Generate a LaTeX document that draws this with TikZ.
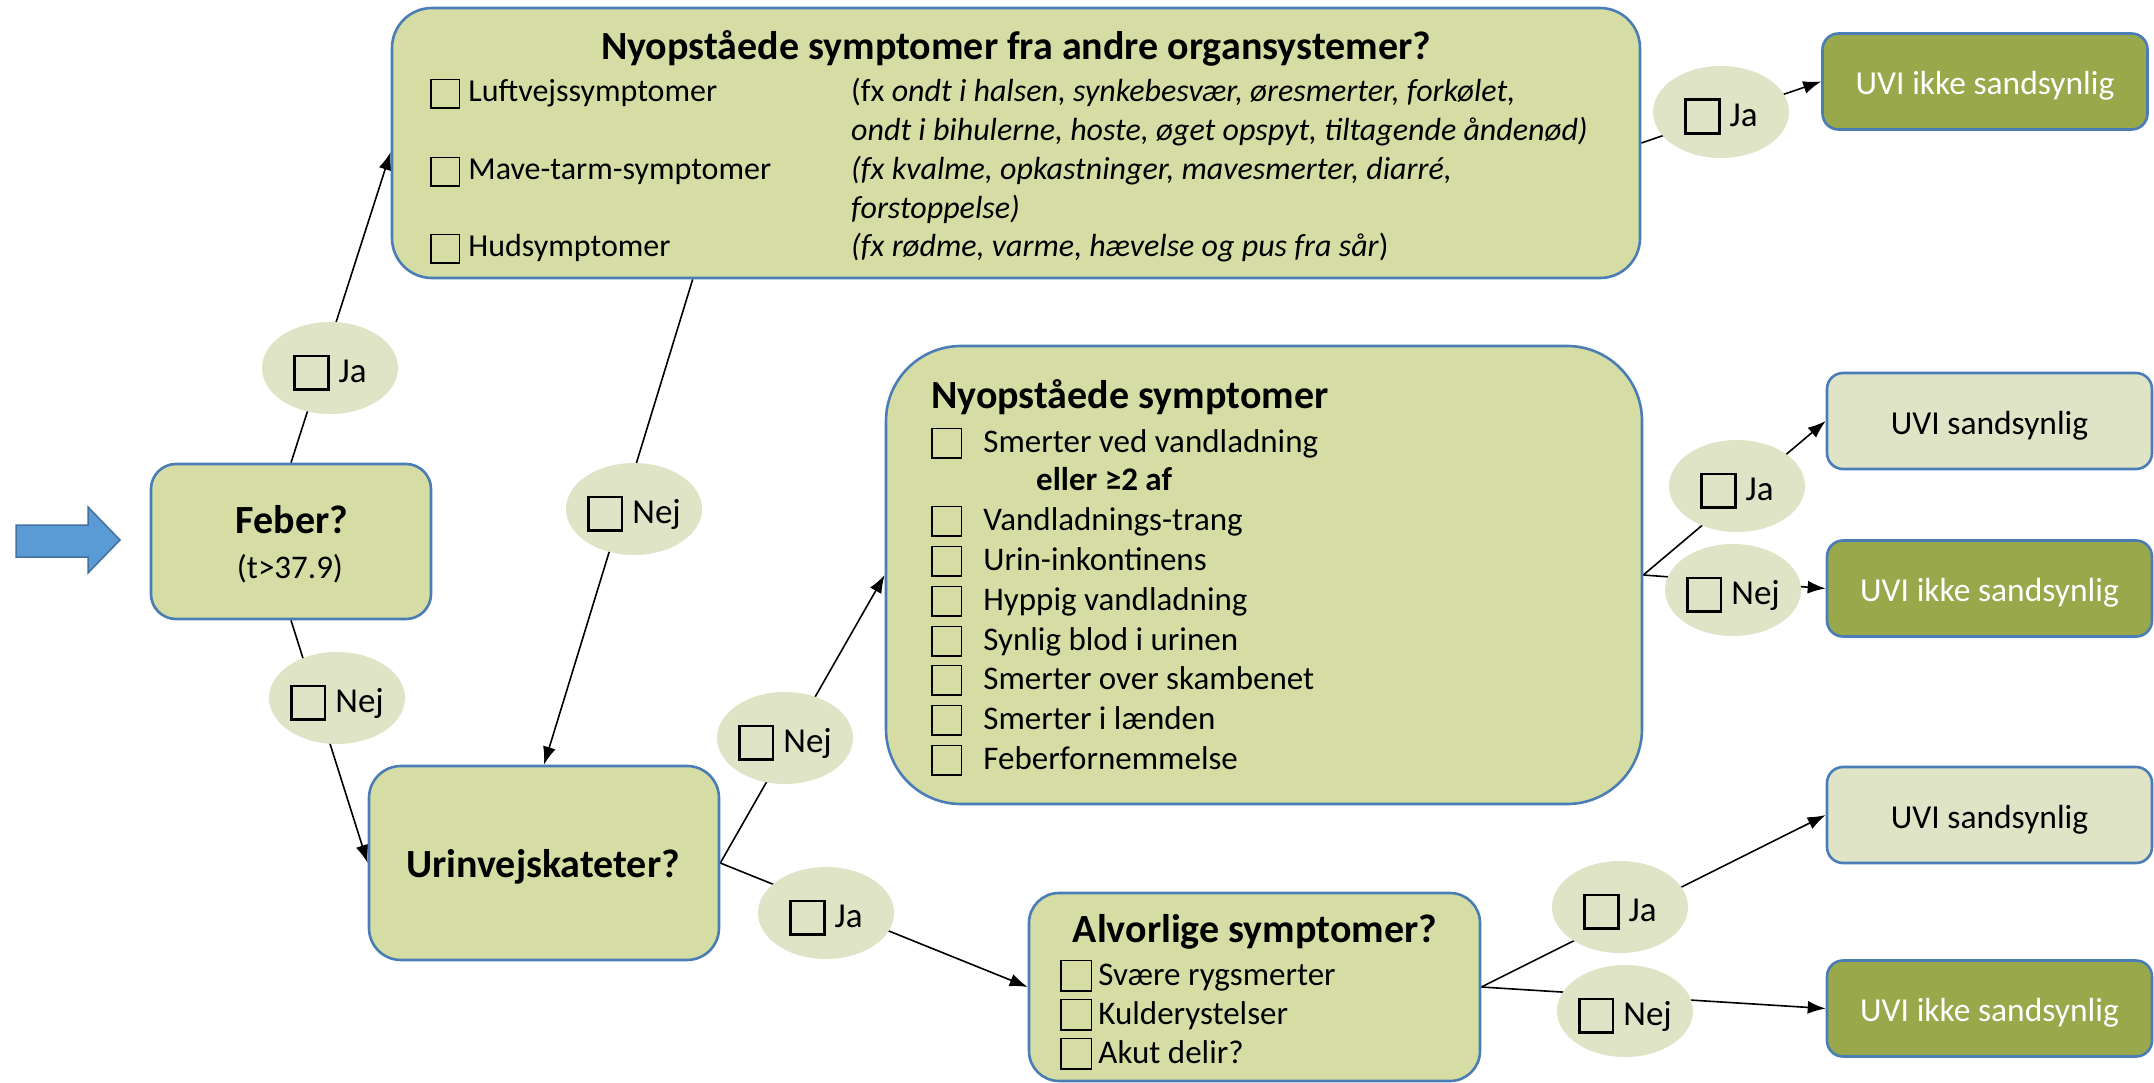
\documentclass[tikz,border=0pt]{standalone}
\usepackage{fontspec}
\setmainfont{Carlito}
\usetikzlibrary{shapes.geometric,arrows.meta,calc,backgrounds}
\definecolor{boxfill}{HTML}{D6DDA4}
\definecolor{lightfill}{HTML}{DFE4C7}
\definecolor{darkfill}{HTML}{98A84B}
\definecolor{bordc}{HTML}{4A7DB5}
\definecolor{arrowfill}{HTML}{5B9BD5}
\definecolor{arrowline}{HTML}{41719C}
\newcommand{\cbx}[2]{\raisebox{-0.16em}{\setlength{\fboxsep}{0pt}\setlength{\fboxrule}{#2}\fbox{\rule{0pt}{#1}\rule{#1}{0pt}}}}
\tikzset{
  qbox/.style={draw=bordc, line width=2.6pt, fill=boxfill, inner sep=0pt},
  resbase/.style={draw=bordc, line width=2.6pt, rounded corners=16pt, minimum width=325pt, minimum height=96pt, inner sep=0pt, text height=26pt, text depth=0pt, font=\fontsize{33.5pt}{40pt}\selectfont},
  resdark/.style={resbase, fill=darkfill, text=white},
  reslight/.style={resbase, fill=lightfill, text=black},
  ans/.style={ellipse, fill=lightfill, minimum width=136pt, minimum height=92pt, inner sep=0pt, text height=29pt, text depth=0pt, font=\fontsize{35pt}{40pt}\selectfont},
  conn/.style={line width=1.6pt, draw=black},
  arr/.style={conn, -{Latex[length=18pt,width=13pt]}},
  tlt/.style={inner sep=0pt, anchor=base west, font=\fontsize{32pt}{38pt}\selectfont},
  tlm/.style={inner sep=0pt, anchor=base west, font=\fontsize{33pt}{40pt}\selectfont},
  ttl/.style={inner sep=0pt, font=\fontsize{40pt}{48pt}\selectfont\bfseries},
}
\begin{document}
\begin{tikzpicture}[x=1pt,y=-1pt]
\useasboundingbox (0,0) rectangle (2154,1083);

% entry arrow
\filldraw[fill=arrowfill, draw=arrowline, line width=1.5pt]
  (16,525) -- (88,525) -- (88,507) -- (120,540) -- (88,573) -- (88,557) -- (16,557) -- cycle;

% question boxes
\node[qbox, rounded corners=25pt, minimum width=280pt, minimum height=155pt] (feber) at (291,541.5) {};
\node[qbox, rounded corners=40pt, minimum width=1248pt, minimum height=270pt] (top) at (1016,143) {};
\node[qbox, rounded corners=75pt, minimum width=756pt, minimum height=458pt] (mid) at (1264,575) {};
\node[qbox, rounded corners=32pt, minimum width=350pt, minimum height=194pt] (urin) at (544,863) {};
\node[qbox, rounded corners=30pt, minimum width=451pt, minimum height=188pt] (alv) at (1254.5,987) {};

% result boxes
\node[resdark]  (uvi1) at (1985,81.5)   {UVI ikke sandsynlig};
\node[reslight] (uvi2) at (1989.5,421)  {UVI sandsynlig};
\node[resdark]  (uvi3) at (1989.5,588.5){UVI ikke sandsynlig};
\node[reslight] (uvi4) at (1989.5,815)  {UVI sandsynlig};
\node[resdark]  (uvi5) at (1989.5,1008.5){UVI ikke sandsynlig};

% answer ellipses
\node[ans] (eJa1)  at (330,368)  {\cbx{31pt}{2.6pt}\hspace{9pt}Ja};
\node[ans] (eNej1) at (337,698)  {\cbx{31pt}{2.6pt}\hspace{9pt}Nej};
\node[ans] (eNej2) at (634,509)  {\cbx{31pt}{2.6pt}\hspace{9pt}Nej};
\node[ans] (eNej3) at (785,738)  {\cbx{31pt}{2.6pt}\hspace{9pt}Nej};
\node[ans] (eJa3)  at (826,913)  {\cbx{31pt}{2.6pt}\hspace{9pt}Ja};
\node[ans] (eJa2)  at (1721,112) {\cbx{31pt}{2.6pt}\hspace{9pt}Ja};
\node[ans] (eJa4)  at (1737,486) {\cbx{31pt}{2.6pt}\hspace{9pt}Ja};
\node[ans] (eNej4) at (1733,590) {\cbx{31pt}{2.6pt}\hspace{9pt}Nej};
\node[ans] (eJa5)  at (1620,907) {\cbx{31pt}{2.6pt}\hspace{9pt}Ja};
\node[ans] (eNej5) at (1625,1011){\cbx{31pt}{2.6pt}\hspace{9pt}Nej};

% Feber text
\node[ttl, anchor=base] (feberT) at (292,533) {Feber?};
\node[inner sep=0pt, anchor=base, font=\fontsize{33pt}{40pt}\selectfont] (feberS) at (290,578) {(t>37.9)};

% Urin text
\node[ttl, anchor=base] (urinT) at (543,877) {Urinvejskateter?};

% Top box text
\node[ttl, anchor=base] (topT) at (1016,60) {Nyopståede symptomer fra andre organsystemer?};
\node[tlt] (t1) at (430,102) {\cbx{27pt}{1.6pt}\hspace{8pt}Luftvejssymptomer};
\node[tlt] (t2) at (430,180) {\cbx{27pt}{1.6pt}\hspace{8pt}Mave-tarm-symptomer};
\node[tlt] (t3) at (430,257) {\cbx{27pt}{1.6pt}\hspace{8pt}Hudsymptomer};
\node[tlt] (u1) at (851,102)   {(fx \textit{ondt i halsen, synkebesvær, øresmerter, forkølet,}};
\node[tlt] (u2) at (851,140.5) {\textit{ondt i bihulerne, hoste, øget opspyt, tiltagende åndenød)}};
\node[tlt] (u3) at (851,180)   {\textit{(fx kvalme, opkastninger, mavesmerter, diarré,}};
\node[tlt] (u4) at (851,218.5) {\textit{forstoppelse)}};
\node[tlt] (u5) at (851,257)   {\textit{(fx rødme, varme, hævelse og pus fra sår})};

% Middle box text
\node[ttl, anchor=base west] (midT) at (931,408) {Nyopståede symptomer};
\node[tlm] (m0) at (931,452) {\cbx{28pt}{1.6pt}\hspace{21pt}Smerter ved vandladning};
\node[tlm, font=\fontsize{33pt}{40pt}\selectfont\bfseries] (mor) at (1036,490) {eller ≥2 af};
\node[tlm] (m1) at (931,530) {\cbx{28pt}{1.6pt}\hspace{21pt}Vandladnings-trang};
\node[tlm] (m2) at (931,570) {\cbx{28pt}{1.6pt}\hspace{21pt}Urin-inkontinens};
\node[tlm] (m3) at (931,610) {\cbx{28pt}{1.6pt}\hspace{21pt}Hyppig vandladning};
\node[tlm] (m4) at (931,650) {\cbx{28pt}{1.6pt}\hspace{21pt}Synlig blod i urinen};
\node[tlm] (m5) at (931,689) {\cbx{28pt}{1.6pt}\hspace{21pt}Smerter over skambenet};
\node[tlm] (m6) at (931,729) {\cbx{28pt}{1.6pt}\hspace{21pt}Smerter i lænden};
\node[tlm] (m7) at (931,769) {\cbx{28pt}{1.6pt}\hspace{21pt}Feberfornemmelse};

% Alvorlige box text
\node[ttl, anchor=base] (alvT) at (1255,942) {Alvorlige symptomer?};
\node[tlm] (a1) at (1060,985)  {\cbx{29pt}{1.6pt}\hspace{6pt}Svære rygsmerter};
\node[tlm] (a2) at (1060,1024) {\cbx{29pt}{1.6pt}\hspace{6pt}Kulderystelser};
\node[tlm] (a3) at (1060,1063) {\cbx{29pt}{1.6pt}\hspace{6pt}Akut delir?};

% connectors (behind)
\begin{scope}[on background layer]
\fill[white] (0,0) rectangle (2154,1083);
\draw[arr] (feber.north) -- ($(top.west)+(0,9)$);
\draw[arr] (feber.south) -- (urin.west);
\draw[arr] ($(top.south west)+(302,0)$) -- (urin.north);
\draw[arr] (urin.east) -- (mid.west);
\draw[arr] (urin.east) -- (alv.west);
\draw[arr] (top.east) -- (uvi1.west);
\draw[arr] (mid.east) -- (uvi2.west);
\draw[arr] (mid.east) -- (uvi3.west);
\draw[arr] (alv.east) -- (uvi4.west);
\draw[arr] (alv.east) -- (uvi5.west);
\end{scope}
\end{tikzpicture}
\end{document}
